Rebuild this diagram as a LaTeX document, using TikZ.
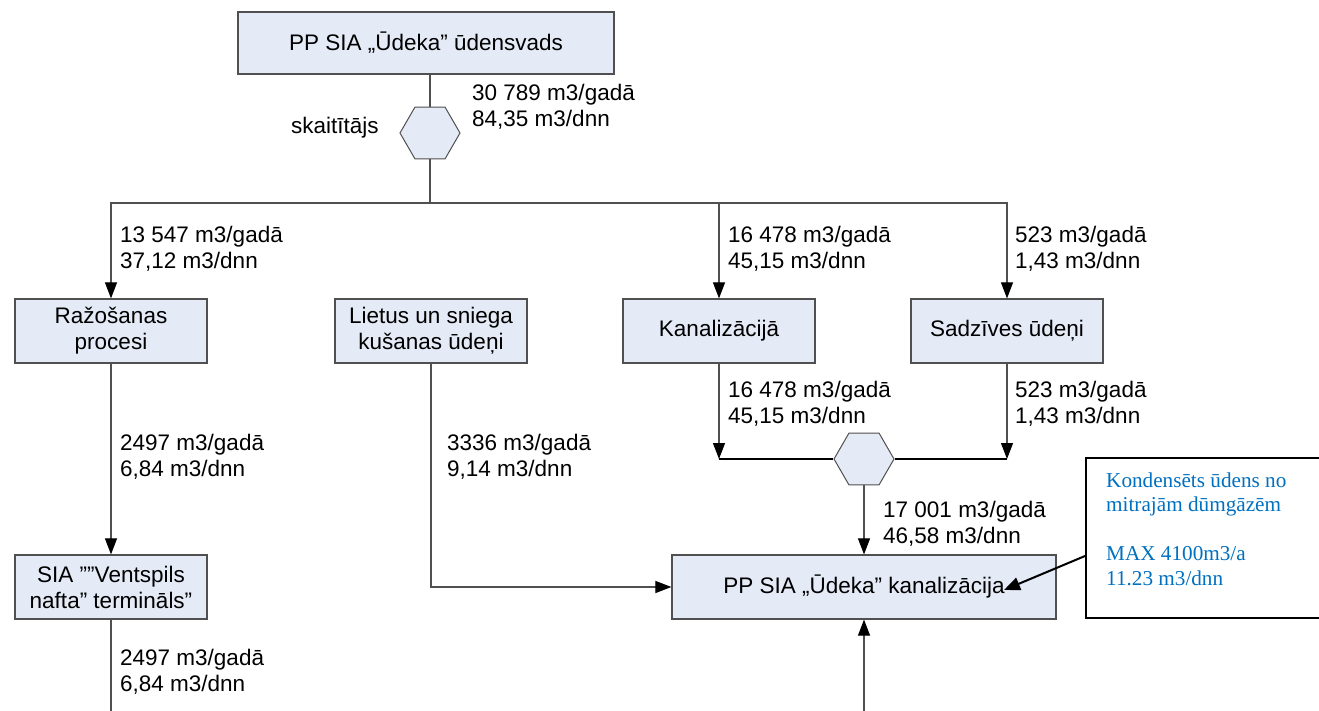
\documentclass[tikz,border=0pt]{standalone}
\usepackage{fontspec}
\setmainfont{Liberation Sans}
\newfontfamily\serifk{Liberation Serif}
\usetikzlibrary{arrows.meta,shapes.geometric}
\definecolor{boxfill}{RGB}{228,234,246}
\definecolor{linegray}{RGB}{80,80,80}
\definecolor{kblue}{RGB}{0,112,192}
\newcommand\mainfnt{\fontsize{22.5}{26}\selectfont}
\newcommand\kondfnt{\serifk\fontsize{21.2}{24.5}\selectfont}
\newcommand\twol[2]{\begin{tabular}[t]{@{}l@{}}#1\\#2\end{tabular}}
\begin{document}
\begin{tikzpicture}[x=1pt,y=-1pt,
  box/.style={draw=linegray, line width=1.2pt, fill=boxfill, minimum width=192pt, minimum height=64pt, inner sep=0pt, align=center, font=\mainfnt},
  hexa/.style={draw=linegray, line width=1pt, fill=boxfill, regular polygon, regular polygon sides=6, minimum size=60pt, inner sep=0pt},
  conn/.style={draw=linegray, line width=1.1pt},
  arr/.style={conn, -{Triangle[length=16pt,width=12pt,black]}},
  lbl/.style={anchor=base west, inner sep=0pt, font=\mainfnt},
]
\useasboundingbox[fill=white] (0,0) rectangle (1319,711);

% boxes
\node[box, minimum width=376pt, minimum height=62pt] (top) at (426,43) {PP SIA „Ūdeka” ūdensvads};
\node[hexa] (h1) at (430,133) {};
\node[box] (raz) at (111,331) {Ražošanas\\procesi};
\node[box] (lie) at (431,331) {Lietus un sniega\\kušanas ūdeņi};
\node[box] (kan) at (719,331) {Kanalizācijā};
\node[box] (sad) at (1007,331) {Sadzīves ūdeņi};
\node[box] (sia) at (111,587) {SIA ””Ventspils\\nafta” termināls”};
\node[hexa] (h2) at (864,459) {};
\node[box, minimum width=384pt] (kanal) at (864,587) {PP SIA „Ūdeka” kanalizācija};
\node[draw=black, line width=2pt, minimum width=240pt, minimum height=160pt, anchor=north west, inner sep=0pt] (kond) at (1085,457) {};
\node[anchor=base west, inner sep=0pt, font=\kondfnt, text=kblue] (kondtxt) at (1106,487)
  {\begin{tabular}[t]{@{}l@{}}Kondensēts ūdens no\\mitrajām dūmgāzēm\\[0pt] \\MAX 4100m3/a\\11.23 m3/dnn\end{tabular}};

% connectors
\coordinate (bus) at (0,203);
\draw[conn] (top.south -| h1) -- (h1.north);
\draw[conn] (h1.south) -- (h1.south |- bus);
\draw[arr] (h1.south |- bus) -| (raz.north);
\draw[arr] (h1.south |- bus) -| (sad.north);
\draw[arr] (kan.north |- bus) -- (kan.north);
\draw[arr] (raz.south) -- (sia.north);
\coordinate (botL) at (111,711);
\draw[conn] (sia.south) -- (botL);
\draw[arr] (lie.south) |- (kanal.west);
\draw[arr] (kan.south) -- (kan.south |- h2.west);
\draw[arr] (sad.south) -- (sad.south |- h2.east);
\draw[black, line width=1.1pt] (kan.south |- h2.west) -- (h2.west);
\draw[black, line width=1.1pt] (h2.east) -- (sad.south |- h2.east);
\draw[arr] (h2.south) -- (kanal.north);
\coordinate (botR) at (864,711);
\draw[arr] (botR) -- (kanal.south);
\coordinate (kin) at (1004,590);
\draw[black, line width=2pt, -{Triangle[length=16pt,width=13pt]}] ([yshift=-18pt]kond.west) -- (kin);

% labels
\node[lbl] (l0) at (472,101) {\twol{30 789 m3/gadā}{84,35 m3/dnn}};
\node[lbl] (lsk) at (291,134) {skaitītājs};
\node[lbl] (l1) at (120,243) {\twol{13 547 m3/gadā}{37,12 m3/dnn}};
\node[lbl] (l2) at (728,243) {\twol{16 478 m3/gadā}{45,15 m3/dnn}};
\node[lbl] (l3) at (1015,243) {\twol{523 m3/gadā}{1,43 m3/dnn}};
\node[lbl] (l4) at (728,397) {\twol{16 478 m3/gadā}{45,15 m3/dnn}};
\node[lbl] (l5) at (1015,397) {\twol{523 m3/gadā}{1,43 m3/dnn}};
\node[lbl] (l6) at (120,450) {\twol{2497 m3/gadā}{6,84 m3/dnn}};
\node[lbl] (l7) at (447,450) {\twol{3336 m3/gadā}{9,14 m3/dnn}};
\node[lbl] (l8) at (883,517) {\twol{17 001 m3/gadā}{46,58 m3/dnn}};
\node[lbl] (l9) at (120,665) {\twol{2497 m3/gadā}{6,84 m3/dnn}};
\end{tikzpicture}
\end{document}
